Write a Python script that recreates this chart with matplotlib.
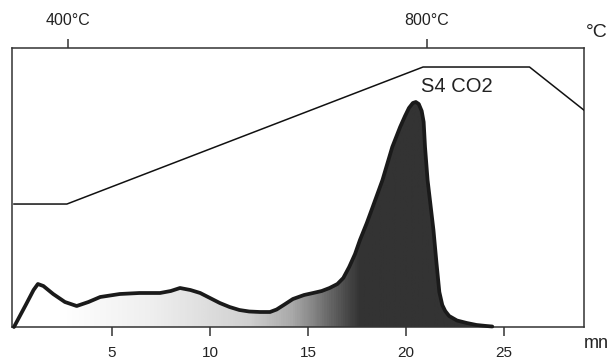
import numpy as np
import matplotlib
matplotlib.use("Agg")
import matplotlib.pyplot as plt
from matplotlib.colors import LinearSegmentedColormap

plt.rcParams['font.family'] = ['Liberation Sans', 'DejaVu Sans']

# S4 CO2 signal (time in mn, arbitrary units)
time_mn = [0.0, 0.6, 1.0, 1.22, 1.5, 2.0, 2.6, 3.2, 3.8, 4.4, 5.4, 6.4, 7.45,
           8.0, 8.47, 9.0, 9.5, 10.0, 10.5, 11.0, 11.5, 12.0, 12.55, 13.06,
           13.4, 13.8, 14.23, 14.8, 15.26, 15.7, 16.1, 16.5, 16.8, 17.1, 17.4,
           17.65, 18.0, 18.3, 18.8, 19.3, 19.7, 19.95, 20.15, 20.35, 20.5,
           20.65, 20.8, 20.9, 20.97, 21.1, 21.25, 21.4, 21.55, 21.7, 21.85,
           22.0, 22.2, 22.6, 23.1, 23.6, 24.1, 24.4]
signal = [0, 22, 37, 43, 41, 33, 25, 21, 25, 30, 33, 34, 34,
          36, 39, 37, 34, 29, 24, 20, 17, 15.5, 15, 15,
          17.5, 22.5, 28, 32, 34, 36, 39, 43, 49, 60, 73,
          87, 104, 120, 147, 180, 200, 211, 219, 224, 225,
          223, 216, 205, 180, 147, 122, 97, 65, 35, 22,
          16, 11, 6.5, 4, 2, 1, 0.5]

# temperature programme (°C)
temp_time = [0.0, 2.7, 20.87, 26.3, 29.08]
temp_c = [400, 400, 800, 800, 674]

time_ticks = [5, 10, 15, 20, 25]
temp_ticks = [2.75, 21.05]
temp_labels = ['400°C', '800°C']

# colour ramp of the fill under the curve
grad_t = [0.0, 2.35, 6.9, 9.5, 12.0, 14.1, 15.1, 16.1, 17.1, 17.65, 30.0]
grad_c = ['#ffffff', '#ffffff', '#efefef', '#e0e0e0', '#cfcfcf', '#aaaaaa',
          '#8a8a8a', '#666666', '#444444', '#333333', '#333333']

fig = plt.figure(figsize=(6.11, 3.60), dpi=100)
ax = fig.add_axes([12 / 611, 33 / 360, 572 / 611, 279 / 360])
xmin, xmax = -0.1, 29.08

# gradient fill clipped to the area under the signal
tmax = max(grad_t)
cmap = LinearSegmentedColormap.from_list(
    'ramp', [(t / tmax, c) for t, c in zip(grad_t, grad_c)])
grad = np.linspace(0, tmax, 600)[None, :] / tmax
poly = ax.fill_between(time_mn, signal, 0, color='none', lw=0)
im = ax.imshow(grad, cmap=cmap, vmin=0, vmax=1, aspect='auto',
               extent=[0, tmax, 0, 279], origin='lower', zorder=1)
im.set_clip_path(poly.get_paths()[0], transform=ax.transData)
ax.set_xlim(xmin, xmax)
ax.set_ylim(0, 279)

ax.plot(time_mn, signal, color='#1a1a1a', lw=2.7, solid_joinstyle='round',
        solid_capstyle='round', zorder=3, clip_on=False)

# temperature line on its own y scale
tax = ax.twinx()
tax.set_ylim(41, 855.5)
tax.plot(temp_time, temp_c, color='#111111', lw=1.1, zorder=2)
tax.axis('off')

for s in ax.spines.values():
    s.set_color('#333333')
    s.set_linewidth(1.1)

ax.set_yticks([])
ax.set_xticks(time_ticks)
ax.set_xticklabels([str(t) for t in time_ticks], fontsize=11, color='#222222')
ax.tick_params(axis='x', direction='out', length=6.5, width=1.1, pad=7,
               color='#333333')

top = ax.secondary_xaxis('top')
top.set_xticks(temp_ticks)
top.set_xticklabels(temp_labels, fontsize=11.5, color='#222222')
top.tick_params(direction='out', length=6.5, width=1.1, pad=8, color='#333333')
top.spines['top'].set_visible(False)

ax.text(20.75, 240, 'S4 CO2', fontsize=14.5, color='#222222',
        ha='left', va='center')
fig.text(0.976, 0.91, '°C', fontsize=14, color='#222222', ha='center', va='center')
fig.text(0.976, 0.045, 'mn', fontsize=13, color='#222222', ha='center', va='center')

fig.savefig('out.png', dpi=100)
